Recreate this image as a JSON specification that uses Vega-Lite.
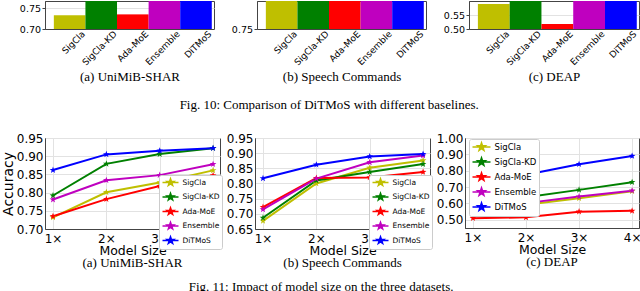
{
 "$schema": "https://vega.github.io/schema/vega-lite/v6.json",
 "background": "white",
 "padding": 0,
 "config": {
  "font": "DejaVu Sans",
  "view": {"stroke": "#444", "strokeWidth": 1},
  "axis": {"labelFont": "DejaVu Sans", "labelColor": "#000", "domainColor": "#444", "tickColor": "#444", "gridColor": "#e2e2e2", "titleFont": "DejaVu Sans", "titleColor": "#000", "titleFontWeight": "normal", "labelOverlap": false, "labelFlush": false},
  "legend": {"labelFont": "DejaVu Sans", "labelColor": "#000"},
  "title": {"font": "Liberation Serif", "fontWeight": "normal", "color": "#000", "fontSize": 13}
 },
 "datasets": {
  "bars": [
   {"d": "UniMiB-SHAR", "method": "SigCla", "acc": 0.733},
   {"d": "UniMiB-SHAR", "method": "SigCla-KD", "acc": 0.792},
   {"d": "UniMiB-SHAR", "method": "Ada-MoE", "acc": 0.735},
   {"d": "UniMiB-SHAR", "method": "Ensemble", "acc": 0.781},
   {"d": "UniMiB-SHAR", "method": "DiTMoS", "acc": 0.862},
   {"d": "Speech Commands", "method": "SigCla", "acc": 0.83},
   {"d": "Speech Commands", "method": "SigCla-KD", "acc": 0.84},
   {"d": "Speech Commands", "method": "Ada-MoE", "acc": 0.84},
   {"d": "Speech Commands", "method": "Ensemble", "acc": 0.85},
   {"d": "Speech Commands", "method": "DiTMoS", "acc": 0.88},
   {"d": "DEAP", "method": "SigCla", "acc": 0.589},
   {"d": "DEAP", "method": "SigCla-KD", "acc": 0.64},
   {"d": "DEAP", "method": "Ada-MoE", "acc": 0.518},
   {"d": "DEAP", "method": "Ensemble", "acc": 0.62},
   {"d": "DEAP", "method": "DiTMoS", "acc": 0.68}
  ],
  "lines": [
   {"d": "UniMiB-SHAR", "method": "SigCla", "msize": 1, "acc": 0.732},
   {"d": "UniMiB-SHAR", "method": "SigCla", "msize": 2, "acc": 0.801},
   {"d": "UniMiB-SHAR", "method": "SigCla", "msize": 3, "acc": 0.828},
   {"d": "UniMiB-SHAR", "method": "SigCla", "msize": 4, "acc": 0.861},
   {"d": "UniMiB-SHAR", "method": "SigCla-KD", "msize": 1, "acc": 0.792},
   {"d": "UniMiB-SHAR", "method": "SigCla-KD", "msize": 2, "acc": 0.879},
   {"d": "UniMiB-SHAR", "method": "SigCla-KD", "msize": 3, "acc": 0.906},
   {"d": "UniMiB-SHAR", "method": "SigCla-KD", "msize": 4, "acc": 0.922},
   {"d": "UniMiB-SHAR", "method": "Ada-MoE", "msize": 1, "acc": 0.735},
   {"d": "UniMiB-SHAR", "method": "Ada-MoE", "msize": 2, "acc": 0.782},
   {"d": "UniMiB-SHAR", "method": "Ada-MoE", "msize": 3, "acc": 0.818},
   {"d": "UniMiB-SHAR", "method": "Ada-MoE", "msize": 4, "acc": 0.847},
   {"d": "UniMiB-SHAR", "method": "Ensemble", "msize": 1, "acc": 0.781},
   {"d": "UniMiB-SHAR", "method": "Ensemble", "msize": 2, "acc": 0.834},
   {"d": "UniMiB-SHAR", "method": "Ensemble", "msize": 3, "acc": 0.848},
   {"d": "UniMiB-SHAR", "method": "Ensemble", "msize": 4, "acc": 0.878},
   {"d": "UniMiB-SHAR", "method": "DiTMoS", "msize": 1, "acc": 0.862},
   {"d": "UniMiB-SHAR", "method": "DiTMoS", "msize": 2, "acc": 0.905},
   {"d": "UniMiB-SHAR", "method": "DiTMoS", "msize": 3, "acc": 0.915},
   {"d": "UniMiB-SHAR", "method": "DiTMoS", "msize": 4, "acc": 0.922},
   {"d": "Speech Commands", "method": "SigCla", "msize": 1, "acc": 0.677},
   {"d": "Speech Commands", "method": "SigCla", "msize": 2, "acc": 0.8},
   {"d": "Speech Commands", "method": "SigCla", "msize": 3, "acc": 0.852},
   {"d": "Speech Commands", "method": "SigCla", "msize": 4, "acc": 0.876},
   {"d": "Speech Commands", "method": "SigCla-KD", "msize": 1, "acc": 0.687},
   {"d": "Speech Commands", "method": "SigCla-KD", "msize": 2, "acc": 0.81},
   {"d": "Speech Commands", "method": "SigCla-KD", "msize": 3, "acc": 0.838},
   {"d": "Speech Commands", "method": "SigCla-KD", "msize": 4, "acc": 0.864},
   {"d": "Speech Commands", "method": "Ada-MoE", "msize": 1, "acc": 0.722},
   {"d": "Speech Commands", "method": "Ada-MoE", "msize": 2, "acc": 0.818},
   {"d": "Speech Commands", "method": "Ada-MoE", "msize": 3, "acc": 0.82},
   {"d": "Speech Commands", "method": "Ada-MoE", "msize": 4, "acc": 0.838},
   {"d": "Speech Commands", "method": "Ensemble", "msize": 1, "acc": 0.715},
   {"d": "Speech Commands", "method": "Ensemble", "msize": 2, "acc": 0.816},
   {"d": "Speech Commands", "method": "Ensemble", "msize": 3, "acc": 0.87},
   {"d": "Speech Commands", "method": "Ensemble", "msize": 4, "acc": 0.892},
   {"d": "Speech Commands", "method": "DiTMoS", "msize": 1, "acc": 0.817},
   {"d": "Speech Commands", "method": "DiTMoS", "msize": 2, "acc": 0.862},
   {"d": "Speech Commands", "method": "DiTMoS", "msize": 3, "acc": 0.889},
   {"d": "Speech Commands", "method": "DiTMoS", "msize": 4, "acc": 0.897},
   {"d": "DEAP", "method": "SigCla", "msize": 1, "acc": 0.553},
   {"d": "DEAP", "method": "SigCla", "msize": 2, "acc": 0.592},
   {"d": "DEAP", "method": "SigCla", "msize": 3, "acc": 0.632},
   {"d": "DEAP", "method": "SigCla", "msize": 4, "acc": 0.675},
   {"d": "DEAP", "method": "SigCla-KD", "msize": 1, "acc": 0.589},
   {"d": "DEAP", "method": "SigCla-KD", "msize": 2, "acc": 0.638},
   {"d": "DEAP", "method": "SigCla-KD", "msize": 3, "acc": 0.683},
   {"d": "DEAP", "method": "SigCla-KD", "msize": 4, "acc": 0.73},
   {"d": "DEAP", "method": "Ada-MoE", "msize": 1, "acc": 0.51},
   {"d": "DEAP", "method": "Ada-MoE", "msize": 2, "acc": 0.515},
   {"d": "DEAP", "method": "Ada-MoE", "msize": 3, "acc": 0.55},
   {"d": "DEAP", "method": "Ada-MoE", "msize": 4, "acc": 0.555},
   {"d": "DEAP", "method": "Ensemble", "msize": 1, "acc": 0.568},
   {"d": "DEAP", "method": "Ensemble", "msize": 2, "acc": 0.602},
   {"d": "DEAP", "method": "Ensemble", "msize": 3, "acc": 0.642},
   {"d": "DEAP", "method": "Ensemble", "msize": 4, "acc": 0.678},
   {"d": "DEAP", "method": "DiTMoS", "msize": 1, "acc": 0.672},
   {"d": "DEAP", "method": "DiTMoS", "msize": 2, "acc": 0.775},
   {"d": "DEAP", "method": "DiTMoS", "msize": 3, "acc": 0.84},
   {"d": "DEAP", "method": "DiTMoS", "msize": 4, "acc": 0.89}
  ]
 },
 "vconcat": [
  {
   "title": {"text": "Fig. 10: Comparison of DiTMoS with different baselines.", "orient": "bottom", "anchor": "middle", "offset": 15},
   "bounds": "flush",
   "spacing": 43,
   "resolve": {"scale": {"y": "independent", "x": "independent", "color": "independent"}},
   "hconcat": [
    {
     "width": 169, "height": 28,
     "data": {"name": "bars"},
     "transform": [{"filter": "datum.d === 'UniMiB-SHAR'"}],
     "mark": {"type": "bar"},
     "encoding": {
      "x": {"field": "method", "type": "nominal", "sort": ["SigCla", "SigCla-KD", "Ada-MoE", "Ensemble", "DiTMoS"], "scale": {"paddingInner": 0, "paddingOuter": 0.175, "align": 0.8},
       "axis": {"title": "(a) UniMiB-SHAR", "titleFont": "Liberation Serif", "titleFontSize": 13, "titlePadding": 4, "labelAngle": -45, "labelAlign": "right", "labelBaseline": "middle", "labelFontSize": 9, "labelPadding": 3, "tickSize": 0, "labelOffset": 14}},
      "y": {"field": "acc", "type": "quantitative", "scale": {"domain": [0.7, 0.767], "zero": false, "nice": false, "clamp": true},
       "axis": {"title": null, "values": [0.7, 0.75], "format": ".2f", "labelFontSize": 9.5, "tickSize": 3, "labelPadding": 1.5, "grid": true}},
      "y2": {"datum": 0.7},
      "color": {"field": "method", "type": "nominal", "scale": {"domain": ["SigCla", "SigCla-KD", "Ada-MoE", "Ensemble", "DiTMoS"], "range": ["#bfbf00", "#008000", "#ff0000", "#bf00bf", "#0000ff"]}, "legend": null}
     }
    },
    {
     "width": 169, "height": 28,
     "data": {"name": "bars"},
     "transform": [{"filter": "datum.d === 'Speech Commands'"}],
     "mark": {"type": "bar"},
     "encoding": {
      "x": {"field": "method", "type": "nominal", "sort": ["SigCla", "SigCla-KD", "Ada-MoE", "Ensemble", "DiTMoS"], "scale": {"paddingInner": 0, "paddingOuter": 0.175, "align": 0.8},
       "axis": {"title": "(b) Speech Commands", "titleFont": "Liberation Serif", "titleFontSize": 13, "titlePadding": 4, "labelAngle": -45, "labelAlign": "right", "labelBaseline": "middle", "labelFontSize": 9, "labelPadding": 3, "tickSize": 0, "labelOffset": 14}},
      "y": {"field": "acc", "type": "quantitative", "scale": {"domain": [0.75, 0.801], "zero": false, "nice": false, "clamp": true},
       "axis": {"title": null, "values": [0.75], "format": ".2f", "labelFontSize": 9.5, "tickSize": 3, "labelPadding": 1.5, "grid": true}},
      "y2": {"datum": 0.75},
      "color": {"field": "method", "type": "nominal", "scale": {"domain": ["SigCla", "SigCla-KD", "Ada-MoE", "Ensemble", "DiTMoS"], "range": ["#bfbf00", "#008000", "#ff0000", "#bf00bf", "#0000ff"]}, "legend": null}
     }
    },
    {
     "width": 170, "height": 28,
     "data": {"name": "bars"},
     "transform": [{"filter": "datum.d === 'DEAP'"}],
     "mark": {"type": "bar"},
     "encoding": {
      "x": {"field": "method", "type": "nominal", "sort": ["SigCla", "SigCla-KD", "Ada-MoE", "Ensemble", "DiTMoS"], "scale": {"paddingInner": 0, "paddingOuter": 0.175, "align": 0.8},
       "axis": {"title": "(c) DEAP", "titleFont": "Liberation Serif", "titleFontSize": 13, "titlePadding": 4, "labelAngle": -45, "labelAlign": "right", "labelBaseline": "middle", "labelFontSize": 9, "labelPadding": 3, "tickSize": 0, "labelOffset": 14}},
      "y": {"field": "acc", "type": "quantitative", "scale": {"domain": [0.5, 0.6], "zero": false, "nice": false, "clamp": true},
       "axis": {"title": null, "values": [0.5, 0.55], "format": ".2f", "labelFontSize": 9.5, "tickSize": 3, "labelPadding": 1.5, "grid": true}},
      "y2": {"datum": 0.5},
      "color": {"field": "method", "type": "nominal", "scale": {"domain": ["SigCla", "SigCla-KD", "Ada-MoE", "Ensemble", "DiTMoS"], "range": ["#bfbf00", "#008000", "#ff0000", "#bf00bf", "#0000ff"]}, "legend": null}
     }
    }
   ]
  },
  {
   "title": {"text": "Fig. 11: Impact of model size on the three datasets.", "orient": "bottom", "anchor": "middle", "offset": 11},
   "bounds": "flush",
   "spacing": 35,
   "resolve": {"scale": {"y": "independent", "x": "independent", "color": "independent"}, "legend": {"color": "independent"}},
   "hconcat": [
    {
     "width": 175, "height": 91,
     "title": {"text": "(a) UniMiB-SHAR", "orient": "bottom", "offset": 0},
     "data": {"name": "lines"},
     "transform": [{"filter": "datum.d === 'UniMiB-SHAR'"}],
     "mark": {"type": "line", "strokeWidth": 2, "point": {"shape": "M0,-1L0.235,-0.324L0.951,-0.309L0.38,0.124L0.588,0.809L0,0.4L-0.588,0.809L-0.38,0.124L-0.951,-0.309L-0.235,-0.324Z", "filled": true, "size": 50, "opacity": 1}},
     "encoding": {
      "x": {"field": "msize", "type": "quantitative", "scale": {"domain": [0.85, 4.13], "nice": false, "zero": false},
       "axis": {"title": "Model Size", "titleFontSize": 12.5, "titlePadding": 0, "values": [1, 2, 3, 4], "labelExpr": "datum.value + '×'", "labelFontSize": 12, "labelPadding": 4, "tickSize": 0, "grid": true}},
      "y": {"field": "acc", "type": "quantitative", "scale": {"domain": [0.7, 0.95], "nice": false, "zero": false},
       "axis": {"title": "Accuracy", "titleFontSize": 14, "titlePadding": 1, "values": [0.7, 0.75, 0.8, 0.85, 0.9, 0.95], "format": ".2f", "labelFontSize": 12, "labelPadding": 2, "tickSize": 0, "grid": true}},
      "color": {"field": "method", "type": "nominal", "scale": {"domain": ["SigCla", "SigCla-KD", "Ada-MoE", "Ensemble", "DiTMoS"], "range": ["#bfbf00", "#008000", "#ff0000", "#bf00bf", "#0000ff"]},
       "legend": {"orient": "none", "legendX": 114, "legendY": 37, "title": null, "symbolType": "M-1,0L3,0M1,-0.92L1.217,-0.299L1.875,-0.284L1.352,0.114L1.541,0.744L1,0.37L0.459,0.744L0.648,0.114L0.125,-0.284L0.783,-0.299Z", "symbolSize": 64, "symbolStrokeWidth": 1.5, "labelFontSize": 7.5, "labelOffset": 11, "rowPadding": 1.5, "padding": 2.5, "fillColor": "white", "strokeColor": "#cccccc", "cornerRadius": 2,
        "encode": {"symbols": {"update": {"fill": {"signal": "datum.value === 'SigCla' ? '#bfbf00' : datum.value === 'SigCla-KD' ? '#008000' : datum.value === 'Ada-MoE' ? '#ff0000' : datum.value === 'Ensemble' ? '#bf00bf' : '#0000ff'"}, "stroke": {"signal": "datum.value === 'SigCla' ? '#bfbf00' : datum.value === 'SigCla-KD' ? '#008000' : datum.value === 'Ada-MoE' ? '#ff0000' : datum.value === 'Ensemble' ? '#bf00bf' : '#0000ff'"}, "opacity": {"value": 1}}}}}}
     }
    },
    {
     "width": 175, "height": 91,
     "title": {"text": "(b) Speech Commands", "orient": "bottom", "offset": 0},
     "data": {"name": "lines"},
     "transform": [{"filter": "datum.d === 'Speech Commands'"}],
     "mark": {"type": "line", "strokeWidth": 2, "point": {"shape": "M0,-1L0.235,-0.324L0.951,-0.309L0.38,0.124L0.588,0.809L0,0.4L-0.588,0.809L-0.38,0.124L-0.951,-0.309L-0.235,-0.324Z", "filled": true, "size": 50, "opacity": 1}},
     "encoding": {
      "x": {"field": "msize", "type": "quantitative", "scale": {"domain": [0.85, 4.13], "nice": false, "zero": false},
       "axis": {"title": "Model Size", "titleFontSize": 12.5, "titlePadding": 0, "values": [1, 2, 3, 4], "labelExpr": "datum.value + '×'", "labelFontSize": 12, "labelPadding": 4, "tickSize": 0, "grid": true}},
      "y": {"field": "acc", "type": "quantitative", "scale": {"domain": [0.65, 0.95], "nice": false, "zero": false},
       "axis": {"title": null, "values": [0.65, 0.7, 0.75, 0.8, 0.85, 0.9, 0.95], "format": ".2f", "labelFontSize": 12, "labelPadding": 2, "tickSize": 0, "grid": true}},
      "color": {"field": "method", "type": "nominal", "scale": {"domain": ["SigCla", "SigCla-KD", "Ada-MoE", "Ensemble", "DiTMoS"], "range": ["#bfbf00", "#008000", "#ff0000", "#bf00bf", "#0000ff"]},
       "legend": {"orient": "none", "legendX": 114, "legendY": 37, "title": null, "symbolType": "M-1,0L3,0M1,-0.92L1.217,-0.299L1.875,-0.284L1.352,0.114L1.541,0.744L1,0.37L0.459,0.744L0.648,0.114L0.125,-0.284L0.783,-0.299Z", "symbolSize": 64, "symbolStrokeWidth": 1.5, "labelFontSize": 7.5, "labelOffset": 11, "rowPadding": 1.5, "padding": 2.5, "fillColor": "white", "strokeColor": "#cccccc", "cornerRadius": 2,
        "encode": {"symbols": {"update": {"fill": {"signal": "datum.value === 'SigCla' ? '#bfbf00' : datum.value === 'SigCla-KD' ? '#008000' : datum.value === 'Ada-MoE' ? '#ff0000' : datum.value === 'Ensemble' ? '#bf00bf' : '#0000ff'"}, "stroke": {"signal": "datum.value === 'SigCla' ? '#bfbf00' : datum.value === 'SigCla-KD' ? '#008000' : datum.value === 'Ada-MoE' ? '#ff0000' : datum.value === 'Ensemble' ? '#bf00bf' : '#0000ff'"}, "opacity": {"value": 1}}}}}}
     }
    },
    {
     "width": 174, "height": 90,
     "title": {"text": "(c) DEAP", "orient": "bottom", "offset": 0},
     "data": {"name": "lines"},
     "transform": [{"filter": "datum.d === 'DEAP'"}],
     "mark": {"type": "line", "strokeWidth": 2, "point": {"shape": "M0,-1L0.235,-0.324L0.951,-0.309L0.38,0.124L0.588,0.809L0,0.4L-0.588,0.809L-0.38,0.124L-0.951,-0.309L-0.235,-0.324Z", "filled": true, "size": 50, "opacity": 1}},
     "encoding": {
      "x": {"field": "msize", "type": "quantitative", "scale": {"domain": [0.85, 4.13], "nice": false, "zero": false},
       "axis": {"title": "Model Size", "titleFontSize": 12.5, "titlePadding": 0, "values": [1, 2, 3, 4], "labelExpr": "datum.value + '×'", "labelFontSize": 12, "labelPadding": 4, "tickSize": 0, "grid": true}},
      "y": {"field": "acc", "type": "quantitative", "scale": {"domain": [0.45, 1.0], "nice": false, "zero": false},
       "axis": {"title": null, "values": [0.5, 0.6, 0.7, 0.8, 0.9, 1.0], "format": ".2f", "labelFontSize": 12, "labelPadding": 2, "tickSize": 0, "grid": true}},
      "color": {"field": "method", "type": "nominal", "scale": {"domain": ["SigCla", "SigCla-KD", "Ada-MoE", "Ensemble", "DiTMoS"], "range": ["#bfbf00", "#008000", "#ff0000", "#bf00bf", "#0000ff"]},
       "legend": {"orient": "none", "legendX": 4, "legendY": 1, "title": null, "symbolType": "M-1,0L3,0M1,-0.92L1.217,-0.299L1.875,-0.284L1.352,0.114L1.541,0.744L1,0.37L0.459,0.744L0.648,0.114L0.125,-0.284L0.783,-0.299Z", "symbolSize": 81, "symbolStrokeWidth": 1.5, "labelFontSize": 8.5, "labelOffset": 12, "rowPadding": 1, "padding": 2.5, "fillColor": "white", "strokeColor": "#cccccc", "cornerRadius": 2,
        "encode": {"symbols": {"update": {"fill": {"signal": "datum.value === 'SigCla' ? '#bfbf00' : datum.value === 'SigCla-KD' ? '#008000' : datum.value === 'Ada-MoE' ? '#ff0000' : datum.value === 'Ensemble' ? '#bf00bf' : '#0000ff'"}, "stroke": {"signal": "datum.value === 'SigCla' ? '#bfbf00' : datum.value === 'SigCla-KD' ? '#008000' : datum.value === 'Ada-MoE' ? '#ff0000' : datum.value === 'Ensemble' ? '#bf00bf' : '#0000ff'"}, "opacity": {"value": 1}}}}}}
     }
    }
   ]
  }
 ],
 "spacing": 18,
 "resolve": {"scale": {"color": "independent"}, "legend": {"color": "independent"}}
}
